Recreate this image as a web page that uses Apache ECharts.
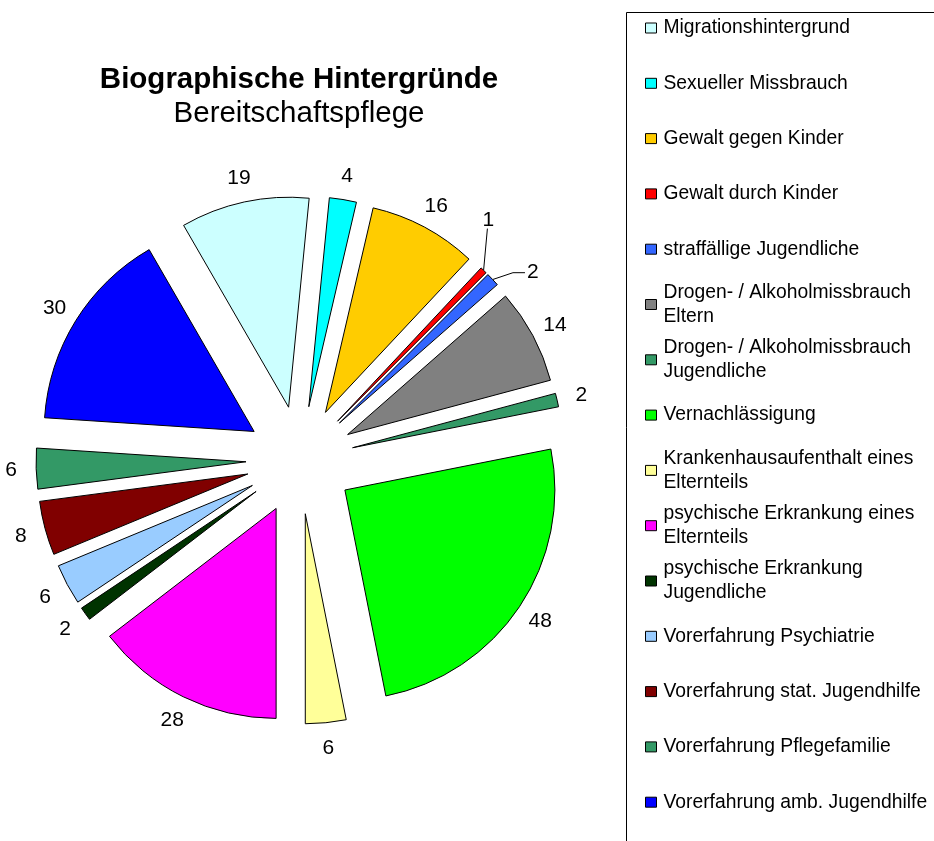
<!DOCTYPE html>
<html>
<head>
<meta charset="utf-8">
<script src="https://cdn.jsdelivr.net/npm/echarts@6/dist/echarts.min.js"></script>
<style>
  html, body { margin: 0; padding: 0; background: #fff; }
  #chart { width: 934px; height: 841px; }
</style>
</head>
<body>
<div id="chart"></div>
<script>
// categories in the order of the pie (clockwise)
var categories = [
    "Migrationshintergrund",
    "Sexueller Missbrauch",
    "Gewalt gegen Kinder",
    "Gewalt durch Kinder",
    "straffällige Jugendliche",
    "Drogen- / Alkoholmissbrauch Eltern",
    "Drogen- / Alkoholmissbrauch Jugendliche",
    "Vernachlässigung",
    "Krankenhausaufenthalt eines Elternteils",
    "psychische Erkrankung eines Elternteils",
    "psychische Erkrankung Jugendliche",
    "Vorerfahrung Psychiatrie",
    "Vorerfahrung stat. Jugendhilfe",
    "Vorerfahrung Pflegefamilie",
    "Vorerfahrung amb. Jugendhilfe"
];
// legend text, wrapped like the original
var legendLabels = [
    "Migrationshintergrund",
    "Sexueller Missbrauch",
    "Gewalt gegen Kinder",
    "Gewalt durch Kinder",
    "straffällige Jugendliche",
    "Drogen- / Alkoholmissbrauch\nEltern",
    "Drogen- / Alkoholmissbrauch\nJugendliche",
    "Vernachlässigung",
    "Krankenhausaufenthalt eines\nElternteils",
    "psychische Erkrankung eines\nElternteils",
    "psychische Erkrankung\nJugendliche",
    "Vorerfahrung Psychiatrie",
    "Vorerfahrung stat. Jugendhilfe",
    "Vorerfahrung Pflegefamilie",
    "Vorerfahrung amb. Jugendhilfe"
];
var counts = [19, 4, 16, 1, 2, 14, 2, 48, 6, 28, 2, 6, 8, 6, 30];
var colors = [
    "#CCFFFF", "#00FFFF", "#FFCC00", "#FF0000", "#3366FF",
    "#808080", "#339966", "#00FF00", "#FFFF99", "#FF00FF",
    "#003300", "#99CCFF", "#800000", "#339966", "#0000FF"
];
// the two tiny slices get a label pulled aside with a leader line
var leaderShift = { 3: [-18, -43], 4: [17, 0] };

var FONT = "Arial, 'Liberation Sans', sans-serif";
var LH = 24;

var chart = echarts.init(document.getElementById("chart"));

var pieData = [];
var labelData = [];
var legendData = [];
for (var i = 0; i < categories.length; i++) {
    var lead = !!leaderShift[i];
    pieData.push({
        name: categories[i],
        value: counts[i],
        selected: true,
        itemStyle: { color: colors[i] },
        label: { show: lead },
        labelLine: { show: lead }
    });
    labelData.push({
        name: categories[i],
        value: counts[i],
        label: { show: !lead }
    });
    var twoLines = legendLabels[i].indexOf("\n") >= 0;
    legendData.push({
        name: categories[i],
        textStyle: { padding: twoLines ? [LH, 0, 0, 2] : [LH, 0, LH, 2] }
    });
}

function leaderLayout(p) {
    var shift = leaderShift[p.dataIndex];
    if (!shift) return;
    var r = p.labelRect;
    var start = p.labelLinePoints[0];
    var x = r.x + shift[0];
    var y = r.y + shift[1];
    var pts;
    if (shift[1] < 0) {
        // label sits above the slice: line up to its bottom
        pts = [start, [x + r.width / 2 - 1, y + r.height - 2]];
    } else {
        // label sits to the right: kinked line to its left side
        pts = [start, [x - 14, y + r.height / 2], [x - 2, y + r.height / 2]];
    }
    return { dx: shift[0], dy: shift[1], labelLinePoints: pts };
}

var option = {
    animation: false,
    color: colors,
    title: {
        text: "Biographische Hintergründe",
        subtext: "Bereitschaftspflege",
        left: 294,
        top: 60,
        textAlign: "center",
        itemGap: 4,
        textStyle: { fontFamily: FONT, fontSize: 29.5, fontWeight: "bold", color: "#000" },
        subtextStyle: { fontFamily: FONT, fontSize: 29.5, color: "#000" }
    },
    graphic: [{
        type: "rect",
        shape: { x: 626.5, y: 12.5, width: 400, height: 900 },
        style: { fill: "none", stroke: "#000", lineWidth: 1 },
        silent: true
    }],
    legend: {
        orient: "vertical",
        left: 645,
        top: -8,
        padding: 0,
        itemWidth: 11,
        itemHeight: 10,
        itemGap: 55.3 - 3 * LH,
        icon: "rect",
        selectedMode: false,
        itemStyle: { borderColor: "#000", borderWidth: 1 },
        textStyle: { fontFamily: FONT, fontSize: 19.3, lineHeight: LH, color: "#000" },
        formatter: function (name) {
            return legendLabels[categories.indexOf(name)];
        },
        data: legendData
    },
    series: [{
        type: "pie",
        center: [300, 460],
        radius: 210,
        startAngle: 120,
        clockwise: true,
        selectedMode: "multiple",
        selectedOffset: 54,
        avoidLabelOverlap: false,
        emphasis: { disabled: true },
        itemStyle: { borderColor: "#000", borderWidth: 1 },
        label: {
            position: "outside",
            formatter: "{c}",
            fontFamily: FONT,
            fontSize: 21,
            color: "#000"
        },
        labelLine: {
            length: 10,
            length2: 5,
            lineStyle: { color: "#000", width: 1 }
        },
        labelLayout: leaderLayout,
        data: pieData
    }, {
        // invisible ring that only carries the value labels
        type: "pie",
        center: [300, 461],
        radius: [274, 298],
        startAngle: 120,
        clockwise: true,
        silent: true,
        emphasis: { disabled: true },
        itemStyle: { color: "transparent", borderWidth: 0 },
        label: {
            position: "inside",
            formatter: "{c}",
            fontFamily: FONT,
            fontSize: 21,
            color: "#000"
        },
        labelLine: { show: false },
        data: labelData
    }]
};
chart.setOption(option);
</script>
</body>
</html>
